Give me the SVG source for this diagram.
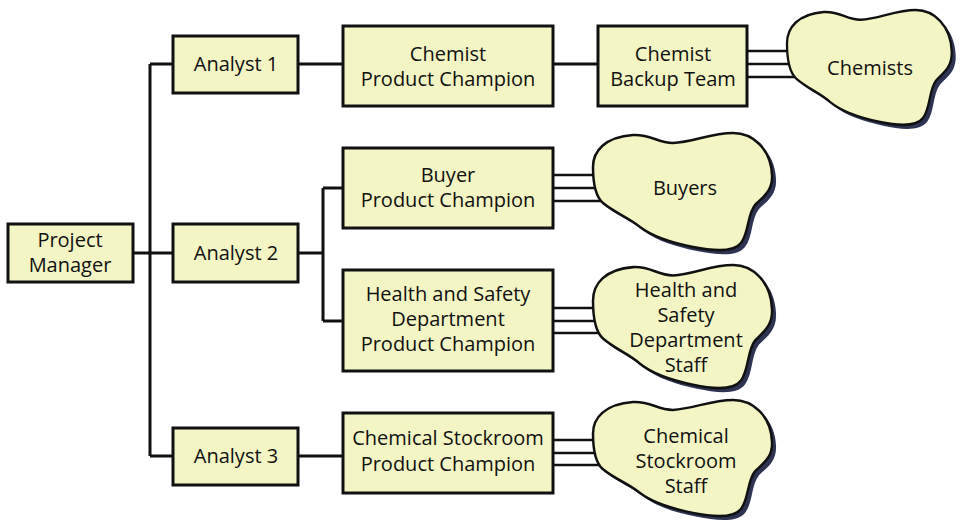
<svg xmlns="http://www.w3.org/2000/svg" width="960" height="524" viewBox="0 0 960 524">
<style>
.box{fill:#f3f5c5;stroke:#111;stroke-width:3}
.cloud{fill:#f3f5c5;stroke:#111;stroke-width:2.5}
.shadow{fill:#2e3452}
.ln{stroke:#111;stroke-width:3;fill:none}
.tl{stroke:#111;stroke-width:2.5;fill:none}
text{font-family:"Open Sans","Noto Sans",sans-serif;font-size:20px;fill:#111;text-anchor:middle}
</style>
<defs>
<path id="cl" d="M0,34 C0,18 12,4 40,2 C58,1 64,10 80,10 C100,9 118,0 140,0 C160,0 178,16 179,42 C180,58 170,64 162,72 C154,82 156,100 148,110 C140,120 120,118 100,114 C80,110 60,104 47,94 C35,84 22,80 10,70 C3,64 0,50 0,34 Z"/>
</defs>
<g id="connectors">
<path class="ln" d="M150,64 V456 M150,64 H173 M150,456 H173 M133,253 H173"/>
<path class="ln" d="M298,64 H343 M553,64 H598"/>
<path class="ln" d="M298,253 H323 M323,188 V321 M323,188 H343 M323,321 H343"/>
<path class="ln" d="M298,456 H343"/>
<path class="tl" d="M747,51 H800 M747,64 H800 M747,77 H800"/>
<path class="tl" d="M553,175 H610 M553,188 H610 M553,201 H610"/>
<path class="tl" d="M553,308 H610 M553,321 H610 M553,333 H610"/>
<path class="tl" d="M553,440 H610 M553,453 H610 M553,465 H610"/>
</g>
<g id="pm"><rect class="box" x="8" y="224" width="125" height="58"/><text x="70" y="247">Project</text><text x="70" y="272">Manager</text></g>
<g id="a1"><rect class="box" x="173" y="36" width="125" height="57"/><text x="236" y="71">Analyst 1</text></g>
<g id="a2"><rect class="box" x="173" y="224" width="125" height="58"/><text x="236" y="260">Analyst 2</text></g>
<g id="a3"><rect class="box" x="173" y="428" width="125" height="57"/><text x="236" y="463">Analyst 3</text></g>
<g id="cpc"><rect class="box" x="343" y="26" width="210" height="80"/><text x="448" y="61">Chemist</text><text x="448" y="86">Product Champion</text></g>
<g id="cbt"><rect class="box" x="598" y="26" width="149" height="80"/><text x="673" y="61">Chemist</text><text x="673" y="86">Backup Team</text></g>
<g id="bpc"><rect class="box" x="343" y="148" width="210" height="80"/><text x="448" y="182">Buyer</text><text x="448" y="207">Product Champion</text></g>
<g id="hpc"><rect class="box" x="343" y="270" width="210" height="101"/><text x="448" y="301">Health and Safety</text><text x="448" y="326">Department</text><text x="448" y="351">Product Champion</text></g>
<g id="spc"><rect class="box" x="343" y="413" width="210" height="80"/><text x="448" y="445">Chemical Stockroom</text><text x="448" y="471">Product Champion</text></g>
<g id="chemists">
<use href="#cl" class="shadow" transform="translate(791,14) scale(0.92,0.98)"/>
<use href="#cl" class="cloud" transform="translate(787,10) scale(0.92,0.98)"/>
<text x="870" y="75">Chemists</text></g>
<g id="buyers">
<use href="#cl" class="shadow" transform="translate(597,137)"/>
<use href="#cl" class="cloud" transform="translate(593,133)"/>
<text x="685" y="195">Buyers</text></g>
<g id="hsstaff">
<use href="#cl" class="shadow" transform="translate(597,269) scale(1,1.05)"/>
<use href="#cl" class="cloud" transform="translate(593,265) scale(1,1.05)"/>
<text x="686" y="297">Health and</text><text x="686" y="322">Safety</text><text x="686" y="347">Department</text><text x="686" y="372">Staff</text></g>
<g id="csstaff">
<use href="#cl" class="shadow" transform="translate(597,404) scale(1,0.99)"/>
<use href="#cl" class="cloud" transform="translate(593,400) scale(1,0.99)"/>
<text x="686" y="443">Chemical</text><text x="686" y="468">Stockroom</text><text x="686" y="493">Staff</text></g>
</svg>
